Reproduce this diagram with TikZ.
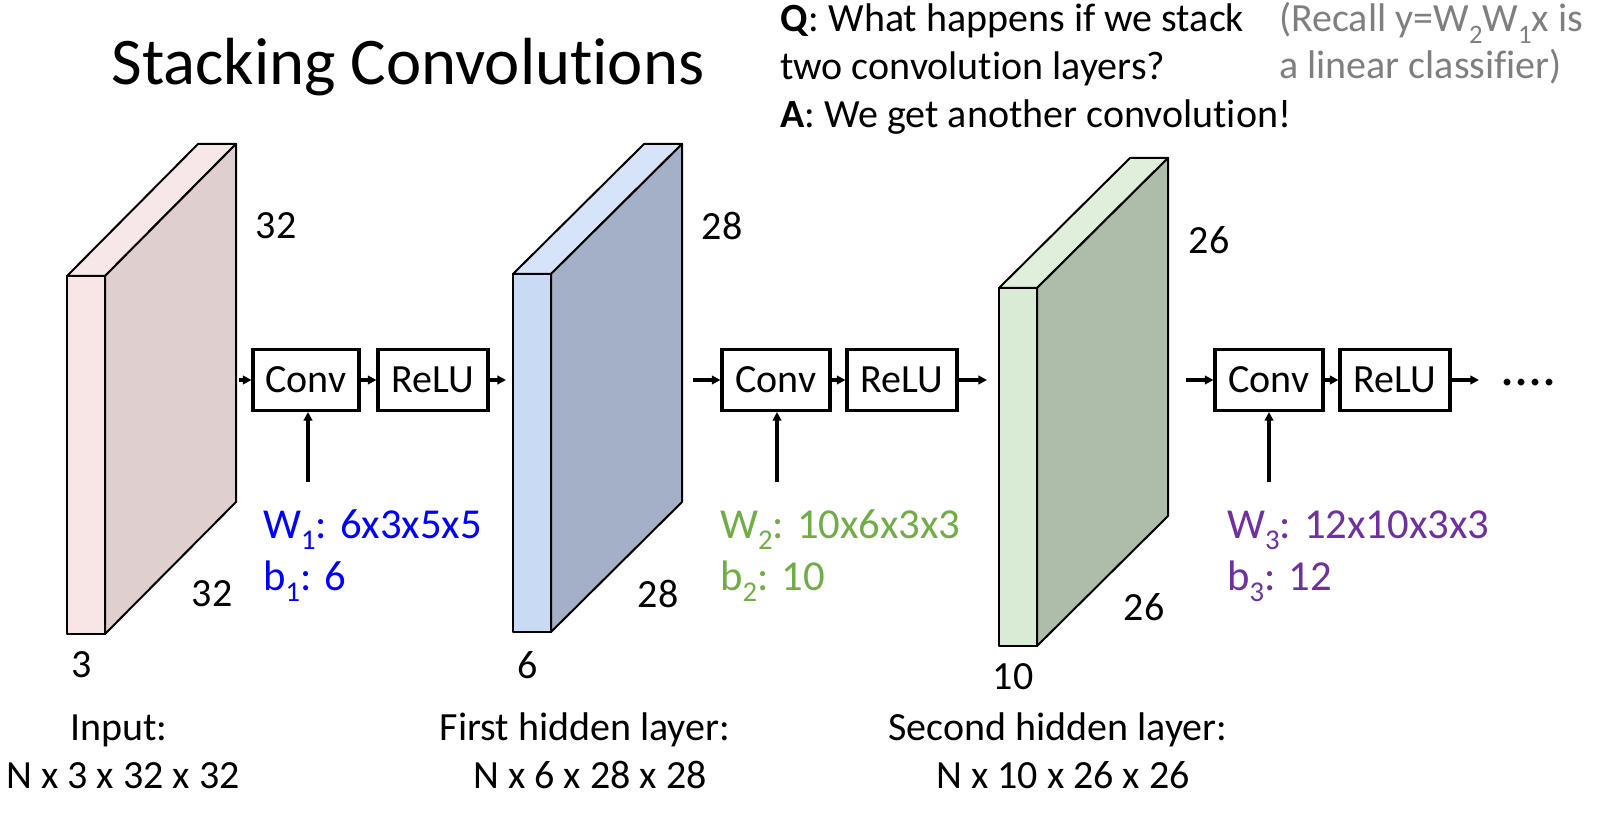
\documentclass[tikz,border=0pt]{standalone}
\usepackage{fontspec}
\setmainfont{Carlito}[Ligatures=NoCommon]
\usetikzlibrary{arrows.meta}
\definecolor{pinkfront}{RGB}{248,229,229}
\definecolor{pinktop}{RGB}{248,231,231}
\definecolor{pinkside}{RGB}{223,207,207}
\definecolor{bluefront}{RGB}{201,218,245}
\definecolor{bluetop}{RGB}{214,227,248}
\definecolor{blueside}{RGB}{164,176,199}
\definecolor{greenfront}{RGB}{217,235,213}
\definecolor{greentop}{RGB}{224,239,220}
\definecolor{greenside}{RGB}{174,189,169}
\definecolor{wblue}{RGB}{0,0,255}
\definecolor{wgreen}{RGB}{112,173,71}
\definecolor{wpurple}{RGB}{112,48,160}
\definecolor{notegray}{RGB}{127,127,127}
\newcommand\sbs[1]{\raisebox{-0.28em}{\fontsize{20}{20}\selectfont #1}}
\newcommand\wsbs[1]{\raisebox{-0.28em}{\fontsize{21.5}{21.5}\selectfont #1}}
% slab: x, y (front top-left), h, dx, dy, front, top, side
\newcommand\slab[8]{%
  \filldraw[slabline,fill=#7] (#1,#2) -- ++(#4,-#5) -- ++(38,0) -- ++(-#4,#5) -- cycle;
  \filldraw[slabline,fill=#8] (#1+38,#2) -- ++(#4,-#5) -- ++(0,#3) -- ++(-#4,#5) -- cycle;
  \filldraw[slabline,fill=#6] (#1,#2) rectangle ++(38,#3);
}
\begin{document}
\begin{tikzpicture}[x=0.75pt,y=-0.75pt,
  slabline/.style={draw=black,line width=1.5pt,line join=round},
  opbox/.style={draw=black,line width=2.3pt,minimum height=61*0.75pt,inner sep=0pt,font=\fontsize{30}{36}\selectfont},
  conn/.style={-{Triangle[length=6.5pt,width=6.5pt]},line width=2.4pt},
  body/.style={font=\fontsize{30}{36}\selectfont,inner sep=0pt},
  wlab/.style={font=\fontsize{32}{38}\selectfont,inner sep=0pt,anchor=base west},
  dimlab/.style={font=\fontsize{30}{36}\selectfont,inner sep=0pt,anchor=center}]
\useasboundingbox (0,0) rectangle (1598,816);

% title and notes
\node[body,anchor=base,font=\fontsize{50}{60}\selectfont] (title) at (408,85) {Stacking Convolutions};
\node[body,anchor=base west] (q1) at (780,32) {\textbf{Q}: What happens if we stack};
\node[body,anchor=base west] (q2) at (780,80) {two convolution layers?};
\node[body,anchor=base west] (q3) at (780,128) {\textbf{A}: We get another convolution!};
\node[body,anchor=base west,text=notegray] (r1) at (1279,32) {(Recall y=W\sbs{2}W\sbs{1}x is};
\node[body,anchor=base west,text=notegray] (r2) at (1279,79) {a linear classifier)};

% slabs
\slab{67}{276}{358}{131}{132}{pinkfront}{pinktop}{pinkside}
\slab{513}{274}{358}{131}{130}{bluefront}{bluetop}{blueside}
\slab{999}{288}{358}{131}{130}{greenfront}{greentop}{greenside}

% dimension labels
\node[dimlab] (d1a) at (276,226) {32};
\node[dimlab] (d1b) at (212,594) {32};
\node[dimlab] (d1c) at (82,665) {3};
\node[dimlab] (d2a) at (722,226) {28};
\node[dimlab] (d2b) at (658,594) {28};
\node[dimlab] (d2c) at (528,665) {6};
\node[dimlab] (d3a) at (1209,240) {26};
\node[dimlab] (d3b) at (1144,607) {26};
\node[dimlab] (d3c) at (1013,677) {10};

% operation boxes
\node[opbox,minimum width=106*0.75pt] (conv1) at (306,380) {Conv};
\node[opbox,minimum width=110*0.75pt] (relu1) at (433,380) {ReLU};
\node[opbox,minimum width=108*0.75pt] (conv2) at (776,380) {Conv};
\node[opbox,minimum width=110*0.75pt] (relu2) at (902,380) {ReLU};
\node[opbox,minimum width=108*0.75pt] (conv3) at (1269,380) {Conv};
\node[opbox,minimum width=110*0.75pt] (relu3) at (1395,380) {ReLU};

% connector ends
\coordinate (s1) at (239,380);
\coordinate (e1) at (506,380);
\coordinate (s2) at (693,380);
\coordinate (e2) at (987,380);
\coordinate (s3) at (1186,380);
\coordinate (e3) at (1479,380);
\coordinate (w1) at (308,482);
\coordinate (w2) at (777,482);
\coordinate (w3) at (1269,482);

\draw[conn] (s1) -- (conv1);
\draw[conn] (conv1) -- (relu1);
\draw[conn] (relu1) -- (e1);
\draw[conn] (s2) -- (conv2);
\draw[conn] (conv2) -- (relu2);
\draw[conn] (relu2) -- (e2);
\draw[conn] (s3) -- (conv3);
\draw[conn] (conv3) -- (relu3);
\draw[conn] (relu3) -- (e3);
\draw[conn] (w1) -- (w1 |- conv1.south);
\draw[conn] (w2) -- (w2 |- conv2.south);
\draw[conn] (w3) -- (w3 |- conv3.south);

\node[body,anchor=base west,font=\fontsize{42}{48}\selectfont] (dots) at (1500,385) {....};

% weights
\node[wlab,text=wblue] (W1) at (263,538) {W\wsbs{1}: 6x3x5x5};
\node[wlab,text=wblue] (B1) at (263,590) {b\wsbs{1}: 6};
\node[wlab,text=wgreen] (W2) at (720,538) {W\wsbs{2}: 10x6x3x3};
\node[wlab,text=wgreen] (B2) at (720,590) {b\wsbs{2}: 10};
\node[wlab,text=wpurple] (W3) at (1227,538) {W\wsbs{3}: 12x10x3x3};
\node[wlab,text=wpurple] (B3) at (1227,590) {b\wsbs{3}: 12};

% captions
\node[body,anchor=base] (c1a) at (119,740) {Input:};
\node[body,anchor=base] (c1b) at (123,788) {N x 3 x 32 x 32};
\node[body,anchor=base] (c2a) at (585,740) {First hidden layer:};
\node[body,anchor=base] (c2b) at (590,788) {N x 6 x 28 x 28};
\node[body,anchor=base] (c3a) at (1058,740) {Second hidden layer:};
\node[body,anchor=base] (c3b) at (1063,788) {N x 10 x 26 x 26};
\end{tikzpicture}
\end{document}
